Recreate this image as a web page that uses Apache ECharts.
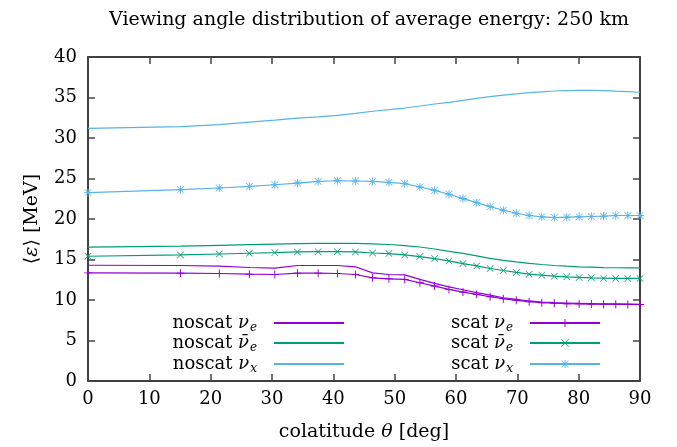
<!DOCTYPE html>
<html>
<head>
<meta charset="utf-8">
<script src="https://cdn.jsdelivr.net/npm/echarts@6/dist/echarts.min.js"></script>
<style>
  html, body { margin: 0; padding: 0; background: #fff; }
  #main { width: 677px; height: 447px; }
</style>
</head>
<body>
<div id="main"></div>
<script>
// colatitude of the sample points [deg]
const angles = [0, 15.08, 21.41, 26.31, 30.46, 34.15, 37.53, 40.66, 43.6, 46.4,
  49.07, 51.64, 54.11, 56.51, 58.85, 61.13, 63.37, 65.56, 67.71, 69.83,
  71.92, 73.99, 76.03, 78.06, 80.07, 82.07, 84.06, 86.05, 88.02, 90];

// average energy [MeV]
const noscatNue = [14.29, 14.26, 14.17, 14.01, 13.93, 14.26, 14.26, 14.26, 14.1, 13.35,
  13.15, 13.11, 12.54, 12.06, 11.63, 11.27, 10.9, 10.61, 10.28, 10.08,
  9.88, 9.75, 9.67, 9.63, 9.59, 9.55, 9.53, 9.51, 9.49, 9.47];
const noscatNuebar = [16.54, 16.66, 16.75, 16.83, 16.9, 16.96, 16.98, 16.99, 16.99, 16.94,
  16.85, 16.72, 16.54, 16.3, 16.0, 15.75, 15.45, 15.15, 14.9, 14.7,
  14.52, 14.38, 14.26, 14.17, 14.1, 14.05, 14.0, 13.98, 13.97, 13.96];
const noscatNux = [31.2, 31.4, 31.65, 31.95, 32.2, 32.45, 32.6, 32.8, 33.05, 33.3,
  33.5, 33.7, 33.95, 34.2, 34.4, 34.65, 34.9, 35.1, 35.3, 35.45,
  35.6, 35.7, 35.8, 35.85, 35.88, 35.88, 35.85, 35.78, 35.72, 35.65];
const scatNue = [13.35, 13.31, 13.27, 13.19, 13.15, 13.31, 13.31, 13.27, 13.15, 12.74,
  12.62, 12.54, 12.13, 11.72, 11.31, 10.98, 10.7, 10.4, 10.16, 9.96,
  9.79, 9.67, 9.6, 9.55, 9.52, 9.5, 9.48, 9.46, 9.45, 9.44];
const scatNuebar = [15.4, 15.56, 15.68, 15.77, 15.85, 15.93, 15.97, 15.97, 15.93, 15.8,
  15.73, 15.56, 15.36, 15.11, 14.82, 14.5, 14.21, 13.89, 13.64, 13.4,
  13.19, 13.07, 12.94, 12.86, 12.79, 12.74, 12.7, 12.66, 12.66, 12.66];
const scatNux = [23.25, 23.62, 23.83, 24.03, 24.23, 24.44, 24.64, 24.72, 24.69, 24.64,
  24.52, 24.36, 23.95, 23.54, 23.05, 22.52, 22.02, 21.53, 21.08, 20.71,
  20.43, 20.27, 20.18, 20.22, 20.27, 20.31, 20.35, 20.43, 20.43, 20.43];

const xTicks = { min: 0, max: 90, interval: 10 };
const yTicks = { min: 0, max: 40, interval: 5 };

const purple = "#9400d3";
const green = "#009e73";
const blue = "#56b4e9";
const font = "DejaVu Serif";

const plusSym = "path://M0,4.4H10V5.6H0Z M4.4,0H5.6V10H4.4Z";
const crossSym = "path://M0,0.7L0.7,0L10,9.3L9.3,10Z M10,0.7L0.7,10L0,9.3L9.3,0Z";
const starSym =
  "path://M0,4.4H10V5.6H0Z M4.4,0H5.6V10H4.4Z M0.4,1.0L1.0,0.4L9.6,9.0L9.0,9.6Z M9.6,1.0L1.0,9.6L0.4,9.0L9.0,0.4Z";

const pairs = (ys) => angles.map((a, i) => [a, ys[i]]);

const labels = {
  "noscat ν_e": "noscat {g|ν}{s|e}",
  "noscat ν̄_e": "noscat {g|ν\u0304}{s|e}",
  "noscat ν_x": "noscat {g|ν}{s|x}",
  "scat ν_e": "scat {g|ν}{s|e}",
  "scat ν̄_e": "scat {g|ν\u0304}{s|e}",
  "scat ν_x": "scat {g|ν}{s|x}",
};

const legendText = {
  fontFamily: font,
  fontSize: 18,
  color: "#000",
  padding: [0, 12, 0, 0],
  rich: {
    g: { fontFamily: font, fontSize: 18, fontStyle: "italic", color: "#000" },
    s: { fontFamily: font, fontSize: 12, fontStyle: "italic", color: "#000", padding: [9, 0, 0, 1] },
  },
};

// one legend per entry so every row sits where gnuplot put it
const legendItem = (name, right, top, hideSymbol) => ({
  data: [name],
  orient: "vertical",
  align: "right",
  right,
  top,
  padding: 0,
  itemWidth: 70,
  itemHeight: 10,
  formatter: (n) => labels[n],
  textStyle: legendText,
  itemStyle: hideSymbol ? { opacity: 0 } : {},
  selectedMode: false,
});

const line = (name, color, ys, sym, size) => ({
  name,
  type: "line",
  data: pairs(ys),
  symbol: sym || "none",
  symbolSize: size || 0,
  xAxisIndex: 0,
  yAxisIndex: 0,
  lineStyle: { color, width: 1.2 },
  itemStyle: { color },
  emphasis: { disabled: true },
  z: sym ? 3 : 2,
});

const tickStyle = { show: true, inside: true, length: 7, lineStyle: { color: "#444", width: 1.5 } };
const lineStyleAxis = { show: true, onZero: false, lineStyle: { color: "#000", width: 1.5 } };
const nameStyle = {
  fontFamily: font,
  fontSize: 19,
  color: "#000",
  rich: { i: { fontFamily: font, fontSize: 19, fontStyle: "italic", color: "#000" } },
};

const chart = echarts.init(document.getElementById("main"));
chart.setOption({
  animation: false,
  backgroundColor: "#fff",
  title: {
    text: "Viewing angle distribution of average energy: 250 km",
    left: 364,
    textAlign: "center",
    top: 6,
    textStyle: { fontFamily: font, fontSize: 19, fontWeight: "normal", color: "#000" },
  },
  grid: { left: 88, right: 37, top: 57, bottom: 65 },
  legend: [
    legendItem("noscat ν_e", 332, 314, true),
    legendItem("noscat ν̄_e", 332, 334, true),
    legendItem("noscat ν_x", 332, 355, true),
    legendItem("scat ν_e", 76, 314, false),
    legendItem("scat ν̄_e", 76, 334, false),
    legendItem("scat ν_x", 76, 355, false),
  ],
  xAxis: [
    {
      type: "value",
      ...xTicks,
      name: "colatitude {i|θ} [deg]",
      nameLocation: "middle",
      nameGap: 42,
      nameTextStyle: nameStyle,
      axisLine: lineStyleAxis,
      axisTick: tickStyle,
      axisLabel: { fontFamily: font, fontSize: 18, color: "#000", margin: 9 },
      splitLine: { show: false },
    },
    {
      type: "value",
      position: "top",
      ...xTicks,
      axisLine: lineStyleAxis,
      axisTick: tickStyle,
      axisLabel: { show: false },
      splitLine: { show: false },
    },
  ],
  yAxis: [
    {
      type: "value",
      ...yTicks,
      name: "⟨{i|ε}⟩ [MeV]",
      nameLocation: "middle",
      nameGap: 46,
      nameTextStyle: nameStyle,
      axisLine: lineStyleAxis,
      axisTick: tickStyle,
      axisLabel: { fontFamily: font, fontSize: 18, color: "#000", margin: 11 },
      splitLine: { show: false },
    },
    {
      type: "value",
      position: "right",
      ...yTicks,
      axisLine: lineStyleAxis,
      axisTick: tickStyle,
      axisLabel: { show: false },
      splitLine: { show: false },
    },
  ],
  series: [
    line("noscat ν_e", purple, noscatNue),
    line("noscat ν̄_e", green, noscatNuebar),
    line("noscat ν_x", blue, noscatNux),
    line("scat ν_e", purple, scatNue, plusSym, 8),
    line("scat ν̄_e", green, scatNuebar, crossSym, 7),
    line("scat ν_x", blue, scatNux, starSym, 8),
  ],
});
</script>
</body>
</html>
